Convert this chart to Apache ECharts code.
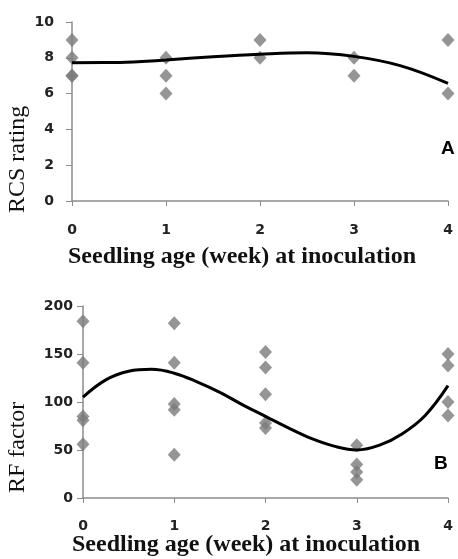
<!DOCTYPE html>
<html lang="en">
<head>
    <meta charset="UTF-8">
    <script src="https://cdn.jsdelivr.net/npm/echarts@6/dist/echarts.min.js"></script>
    <title>Seedling age</title>
</head>
<body style="margin:0;background:#fff">
    <div id="main" style="width:458px;height:559px;"></div>
    <script>
        // panel A: RCS rating observations
        var rcsPoints = [[0, 9], [0, 8], [0, 7], [0, 7], [1, 8], [1, 7], [1, 6], [2, 9], [2, 8], [3, 8], [3, 7], [4, 9], [4, 6]];
        // trend line
        var rcsCurve = [[0, 7.73], [0.5, 7.74], [1, 7.88], [1.5, 8.06], [2, 8.2], [2.5, 8.28], [3, 8.08], [3.5, 7.55], [4, 6.57]];

        // panel B: RF factor observations
        var rfPoints = [[0, 184], [0, 141], [0, 85], [0, 81], [0, 56], [1, 182], [1, 141], [1, 98], [1, 92], [1, 45],
            [2, 152], [2, 136], [2, 108], [2, 78], [2, 73], [3, 55], [3, 35], [3, 27], [3, 19], [4, 150], [4, 138], [4, 100], [4, 86]];
        var rfCurve = [[0, 105], [0.25, 123], [0.5, 132], [0.75, 134], [1, 130], [1.25, 121], [1.5, 110], [1.75, 97], [2, 85],
            [2.25, 73], [2.5, 62], [2.75, 54], [3, 50], [3.25, 55], [3.5, 67], [3.75, 86], [4, 117]];

        var xTicks = ['0', '1', '2', '3', '4'];

        var gray = '#7b7b7b';
        var axisGray = '#8c8c8c';
        var tickFont = { fontFamily: 'DejaVu Sans', fontWeight: 'bold', fontSize: 14, color: '#222' };

        var chart = echarts.init(document.getElementById('main'));

        function xAxisFor(gridIndex, margin) {
            return {
                type: 'value', gridIndex: gridIndex, min: 0, max: 4, interval: 1,
                axisLine: { lineStyle: { color: axisGray, width: 1.5 } },
                axisTick: { show: true, length: 5, lineStyle: { color: axisGray } },
                splitLine: { show: false },
                axisLabel: Object.assign({ margin: margin, formatter: function (v) { return xTicks[v]; } }, tickFont)
            };
        }
        function yAxisFor(gridIndex, max, interval, margin) {
            return {
                type: 'value', gridIndex: gridIndex, min: 0, max: max, interval: interval,
                axisLine: { show: true, lineStyle: { color: axisGray, width: 1.5 } },
                axisTick: { show: true, length: 6, lineStyle: { color: axisGray } },
                splitLine: { show: false },
                axisLabel: Object.assign({ margin: margin }, tickFont)
            };
        }

        var serifTitle = { fontFamily: 'Liberation Serif', fontSize: 24, fill: '#111' };

        var option = {
            backgroundColor: '#fff',
            animation: false,
            grid: [
                { left: 72, right: 10, top: 22, height: 179 },
                { left: 83, right: 10, top: 306, height: 192 }
            ],
            xAxis: [xAxisFor(0, 22), xAxisFor(1, 21)],
            yAxis: [yAxisFor(0, 10, 2, 18), yAxisFor(1, 200, 50, 10)],
            graphic: [
                { type: 'text', left: 68, top: 245, style: Object.assign({ text: 'Seedling age (week) at inoculation', fontWeight: 'bold' }, serifTitle) },
                { type: 'text', left: 72, top: 533, style: Object.assign({ text: 'Seedling age (week) at inoculation', fontWeight: 'bold' }, serifTitle) },
                { type: 'text', x: 6, y: 213, rotation: Math.PI / 2, style: Object.assign({ text: 'RCS rating' }, serifTitle) },
                { type: 'text', x: 6, y: 493, rotation: Math.PI / 2, style: Object.assign({ text: 'RF factor' }, serifTitle) },
                { type: 'text', left: 441, top: 139, style: { text: 'A', fontFamily: 'Liberation Sans', fontWeight: 'bold', fontSize: 19, fill: '#000' } },
                { type: 'text', left: 434, top: 454, style: { text: 'B', fontFamily: 'Liberation Sans', fontWeight: 'bold', fontSize: 19, fill: '#000' } }
            ],
            series: [
                {
                    type: 'scatter', xAxisIndex: 0, yAxisIndex: 0, data: rcsPoints,
                    symbol: 'diamond', symbolSize: [13, 14], itemStyle: { color: gray }
                },
                {
                    type: 'line', xAxisIndex: 0, yAxisIndex: 0, data: rcsCurve, smooth: 0.4,
                    showSymbol: false, lineStyle: { color: '#000', width: 3 }, z: 3
                },
                {
                    type: 'scatter', xAxisIndex: 1, yAxisIndex: 1, data: rfPoints,
                    symbol: 'diamond', symbolSize: [13, 14], itemStyle: { color: gray }
                },
                {
                    type: 'line', xAxisIndex: 1, yAxisIndex: 1, data: rfCurve, smooth: 0.4,
                    showSymbol: false, lineStyle: { color: '#000', width: 3 }, z: 3
                }
            ]
        };
        chart.setOption(option);
    </script>
</body>
</html>
